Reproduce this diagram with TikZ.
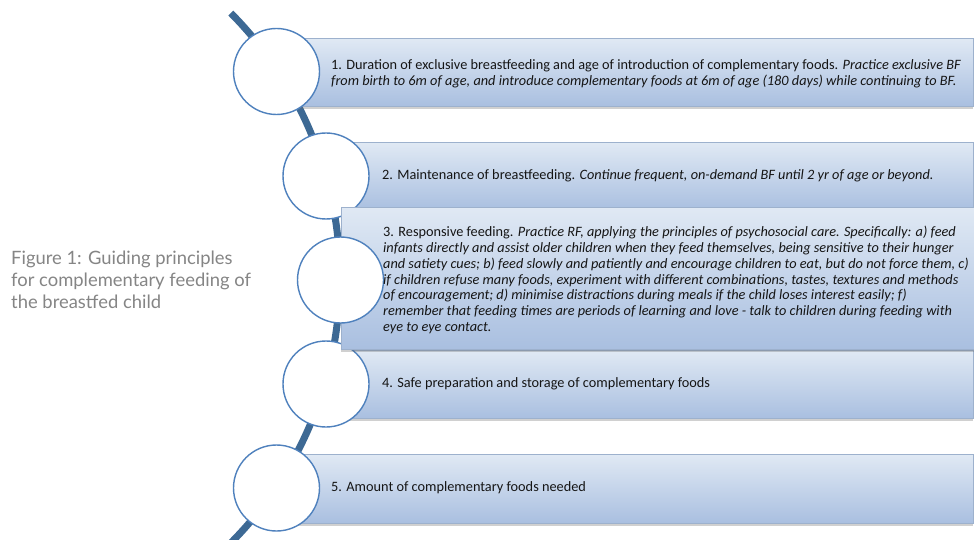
\documentclass[tikz,border=0pt]{standalone}
\usepackage{fontspec}
\setmainfont{Carlito}
\newfontfamily\capfont{Lato}
\usetikzlibrary{shadows}
\definecolor{arcblue}{HTML}{3D6994}
\definecolor{ringblue}{HTML}{4F81BD}
\definecolor{boxtop}{HTML}{E0E9F4}
\definecolor{boxbot}{HTML}{A9BFE0}
\definecolor{boxline}{HTML}{9DB1CD}
\definecolor{txt}{HTML}{151515}
\definecolor{capgray}{HTML}{858585}
\tikzset{
  listbox/.style={rectangle, anchor=north west, inner sep=0pt, draw=boxline, line width=0.6pt,
    top color=boxtop, bottom color=boxbot,
    drop shadow={shadow xshift=0pt, shadow yshift=-3pt, opacity=0.3, fill=black!60}},
  ring/.style={circle, draw=ringblue, line width=1.4pt, fill=white, minimum size=86pt, inner sep=0pt},
  boxtext/.style={anchor=west, align=left, inner sep=0pt, text=txt,
    font=\fontsize{14.3pt}{15.7pt}\selectfont},
  stem/.style={draw=arcblue, line width=7pt}
}
\begin{document}
\begin{tikzpicture}[x=1pt,y=1pt]
\useasboundingbox (0,0) rectangle (974,539);
\clip (0,0) rectangle (974,539);
\fill[white] (0,0) rectangle (974,539);
% curved stem
\draw[stem] ([shift={(-36,261)}]-46:376) arc[start angle=-46, end angle=44.8, radius=376];
% boxes
\node[listbox, minimum width=696pt, minimum height=68pt] (b1) at (277,501) {};
\node[listbox, minimum width=647pt, minimum height=68pt] (b2) at (326,397) {};
\node[listbox, minimum width=647pt, minimum height=68pt] (b4) at (326,189) {};
\node[listbox, minimum width=696pt, minimum height=69pt] (b5) at (277,85) {};
% circles
\node[ring] (c1) at (276.5,467.5) {};
\node[ring] (c2) at (326,363) {};
\node[ring] (c4) at (326,155) {};
\node[ring] (c5) at (276.5,51) {};
% box 3 on top
\node[listbox, minimum width=660pt, minimum height=142pt] (b3) at (341,332) {};
\node[ring] (c3) at (340.5,259) {};
% texts
\node[boxtext] (t1) at (331,465) {1. Duration of exclusive breastfeeding and age of introduction of complementary foods. \textit{Practice exclusive BF}\\\textit{from birth to 6m of age, and introduce complementary foods at 6m of age (180 days) while continuing to BF.}};
\node[boxtext] (t2) at (382,363) {2. Maintenance of breastfeeding. \textit{Continue frequent, on-demand BF until 2 yr of age or beyond.}};
\node[boxtext] (t3) at (383,259) {3. Responsive feeding. \textit{Practice RF, applying the principles of psychosocial care. Specifically: a) feed}\\
\textit{infants directly and assist older children when they feed themselves, being sensitive to their hunger}\\
\textit{and satiety cues; b) feed slowly and patiently and encourage children to eat, but do not force them, c)}\\
\textit{if children refuse many foods, experiment with different combinations, tastes, textures and methods}\\
\textit{of encouragement; d) minimise distractions during meals if the child loses interest easily; f)}\\
\textit{remember that feeding times are periods of learning and love - talk to children during feeding with}\\
\textit{eye to eye contact.}};
\node[boxtext] (t4) at (382,155) {4. Safe preparation and storage of complementary foods};
\node[boxtext] (t5) at (331,51) {5. Amount of complementary foods needed};
% caption
\node[anchor=west, align=left, inner sep=0pt, text=capgray, font=\capfont\fontsize{18.4pt}{22pt}\selectfont] (cap) at (11,259) {Figure 1: Guiding principles\\for complementary feeding of\\the breastfed child};
\end{tikzpicture}
\end{document}
